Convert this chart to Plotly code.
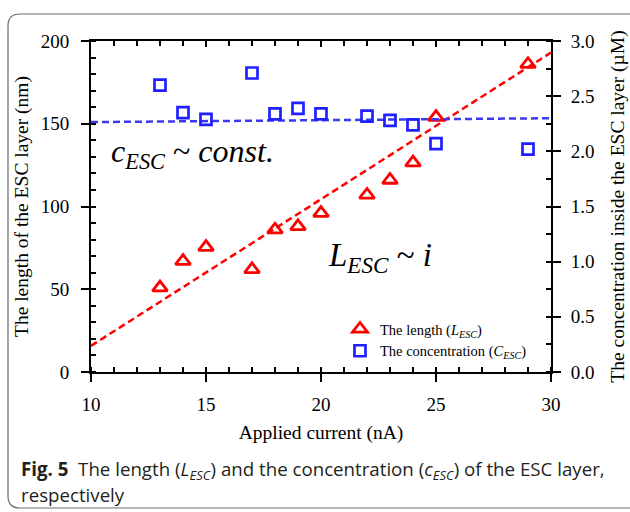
import plotly.graph_objects as go

# ---------------- data ----------------
current_L = [13, 14, 15, 17, 18, 19, 20, 22, 23, 24, 25, 29]           # nA
length_L = [51, 67, 75.5, 62, 86, 88, 96, 107, 116, 126.5, 154, 186]    # nm
current_c = [13, 14, 15, 17, 18, 19, 20, 22, 23, 24, 25, 29]           # nA
conc_c = [2.60, 2.35, 2.29, 2.71, 2.34, 2.39, 2.34, 2.32, 2.28, 2.24, 2.07, 2.02]  # uM
fit_x = [10, 30]
fit_L = [15.8, 193]       # linear trend of length (nm)
fit_c = [2.265, 2.30]     # near-constant trend of concentration (uM)

x_ticks = [10, 15, 20, 25, 30]
y_ticks = [0, 50, 100, 150, 200]
y2_ticks = [0.0, 0.5, 1.0, 1.5, 2.0, 2.5, 3.0]

# ---------------- layout constants ----------------
W, H = 630, 512
ML, MR, MT, MB = 91, 79, 41, 140
PW, PH = W - ML - MR, H - MT - MB

def px(xp):
    return (xp - ML) / PW

def py(yp):
    return (H - MB - yp) / PH

SERIF = "Liberation Serif, Times New Roman, serif"
RED = "#ff0000"
BLUE = "#1f1fff"
BLUE_LINE = "#3a3af0"

fig = go.Figure()

fig.add_trace(go.Scatter(x=fit_x, y=fit_L, mode="lines",
                         line=dict(color=RED, width=2.5, dash="7px,4px"),
                         showlegend=False, hoverinfo="skip"))
fig.add_trace(go.Scatter(x=fit_x, y=fit_c, mode="lines", yaxis="y2",
                         line=dict(color=BLUE_LINE, width=2.5, dash="7px,4px"),
                         showlegend=False, hoverinfo="skip"))
fig.add_trace(go.Scatter(x=current_L, y=length_L, mode="markers",
                         name="The length (<i>L</i><sub><i>ESC</i></sub>)",
                         legendgroup="a",
                         marker=dict(symbol="triangle-up-open", size=13, color=RED,
                                     line=dict(width=2.8, color=RED))))
fig.add_trace(go.Scatter(x=current_c, y=conc_c, mode="markers", yaxis="y2",
                         name="The concentration (<i>C</i><sub><i>ESC</i></sub>)",
                         legendgroup="b",
                         marker=dict(symbol="square-open", size=11, color=BLUE,
                                     line=dict(width=2.7, color=BLUE))))
# invisible trace to anchor the top mirror axis
fig.add_trace(go.Scatter(x=fit_x, y=fit_L, xaxis="x2", mode="lines",
                         line=dict(color="rgba(0,0,0,0)", width=0),
                         showlegend=False, hoverinfo="skip"))

def tfont():
    return dict(family=SERIF, size=19, color="black")

def hfont():
    return dict(family=SERIF, size=19.5, color="black")

def minor(dt):
    return dict(dtick=dt, ticks="inside", ticklen=5, tickwidth=2, tickcolor="black")

def common():
    return dict(showline=True, linecolor="black", linewidth=2, showgrid=False,
                zeroline=False, ticks="outside", ticklen=8, tickwidth=2,
                tickcolor="black", tickfont=tfont())

fig.update_layout(
    width=W, height=H,
    font=dict(family=SERIF, color="black"),
    margin=dict(l=ML, r=MR, t=MT, b=MB, autoexpand=False),
    paper_bgcolor="white", plot_bgcolor="white",
    xaxis=dict(range=[10, 30], tickvals=x_ticks, minor=minor(1), ticklabelstandoff=6,
               title=dict(text="Applied current (nA)", font=hfont(), standoff=12),
               **common()),
    xaxis2=dict(range=[10, 30], overlaying="x", side="top", showline=True,
                linecolor="black", linewidth=2, showgrid=False, zeroline=False,
                ticks="inside", ticklen=6, tickwidth=2, tickcolor="black",
                tickvals=x_ticks, showticklabels=False, minor=minor(1)),
    yaxis=dict(range=[0, 200], tickvals=y_ticks, minor=minor(10), ticklabelstandoff=8,
               title=dict(text="The length of the ESC layer (nm)", font=hfont(), standoff=7),
               **common()),
    yaxis2=dict(range=[0, 3], tickvals=y2_ticks, ticktext=[f"{v:.1f}" for v in y2_ticks],
                overlaying="y", side="right", minor=minor(0.25), ticklabelstandoff=6,
                title=dict(text="The concentration inside the ESC layer (µM)", font=hfont(), standoff=17),
                **common()),
    legend=dict(x=px(340), y=py(313), xanchor="left", yanchor="top",
                bgcolor="rgba(0,0,0,0)", font=dict(family=SERIF, size=14.5, color="black"),
                tracegroupgap=0, itemsizing="trace"),
    showlegend=True,
)

# in-plot annotations
fig.add_annotation(x=10.78, y=132, xref="x", yref="y", xanchor="left", yanchor="middle",
                   text="<i>c</i><sub><i>ESC</i></sub> ~ <i>const.</i>", showarrow=False,
                   font=dict(family=SERIF, size=32, color="black"))
fig.add_annotation(x=20.2, y=69, xref="x", yref="y", xanchor="left", yanchor="middle",
                   text="<i>L</i><sub><i>ESC</i></sub> ~ <i>i</i>", showarrow=False,
                   font=dict(family=SERIF, size=33, color="black"))

# caption
capfont = dict(family="Open Sans", size=18.7, color="#231f20")
fig.add_annotation(x=px(19), y=py(470), xref="paper", yref="paper", xanchor="left", yanchor="middle",
                   text="<b>Fig. 5</b>  The length (<i>L</i><sub><i>ESC</i></sub>) and the concentration "
                        "(<i>c</i><sub><i>ESC</i></sub>) of the ESC layer,",
                   showarrow=False, font=capfont)
fig.add_annotation(x=px(19), y=py(494), xref="paper", yref="paper", xanchor="left", yanchor="middle",
                   text="respectively", showarrow=False, font=capfont)

# rounded frame around figure + caption
x0, x1, y0, y1, r = px(8), px(660), py(14), py(508), 12
rx, ry = r / PW, r / PH
path = (f"M {x0+rx},{y0} L {x1-rx},{y0} Q {x1},{y0} {x1},{y0-ry} L {x1},{y1+ry} "
        f"Q {x1},{y1} {x1-rx},{y1} L {x0+rx},{y1} Q {x0},{y1} {x0},{y1+ry} "
        f"L {x0},{y0-ry} Q {x0},{y0} {x0+rx},{y0} Z")
fig.add_shape(type="path", path=path, xref="paper", yref="paper",
              line=dict(color="#6b6b6b", width=1.2), layer="below")

fig.write_html("out.html")
